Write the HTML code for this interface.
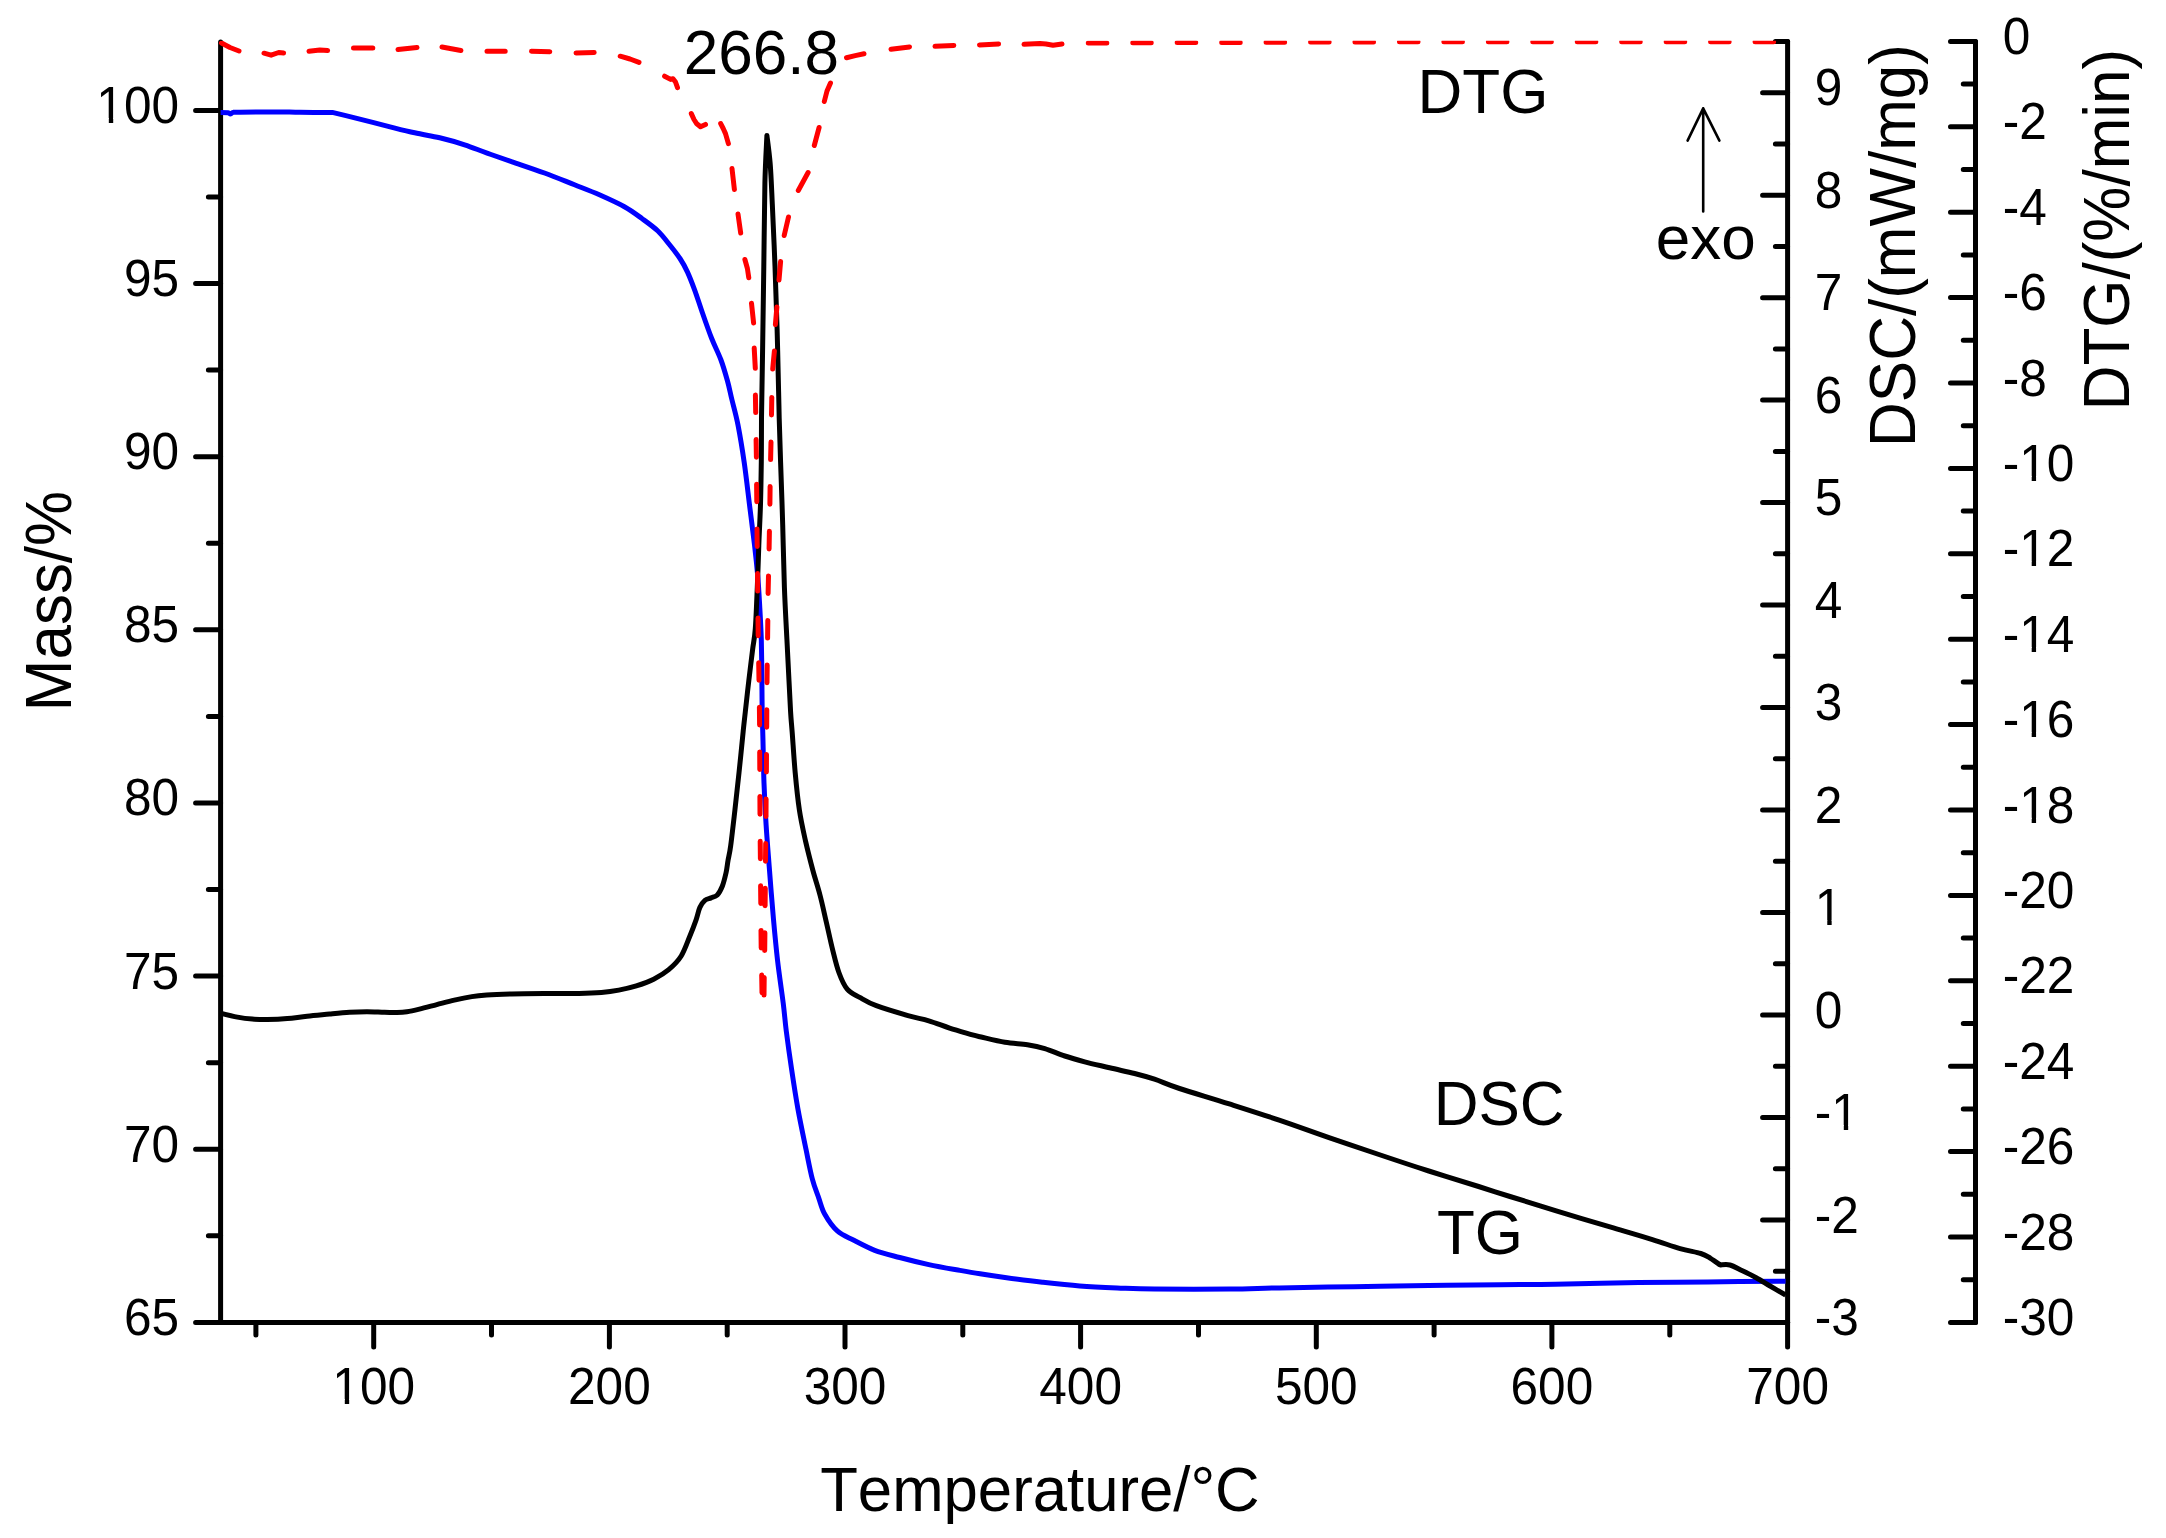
<!DOCTYPE html>
<html lang="en">
<head>
<meta charset="utf-8">
<title>TG-DSC-DTG curves</title>
<style>
html,body{margin:0;padding:0;background:#fff;}
body{width:2166px;height:1538px;overflow:hidden;}
svg{display:block;}
</style>
</head>
<body>
<svg width="2166" height="1538" viewBox="0 0 2166 1538">
<rect width="2166" height="1538" fill="#fff"/>
<defs><clipPath id="pc"><rect x="217.6" y="40.8" width="1570" height="1281.6"/></clipPath></defs>
<g stroke="#000" stroke-width="5" stroke-linecap="round" fill="none">
<path d="M220.6 41.9 V1322.4"/>
<path d="M220.6 1322.4H195.6M220.6 1149.3H195.6M220.6 976.1H195.6M220.6 803H195.6M220.6 629.8H195.6M220.6 456.7H195.6M220.6 283.5H195.6M220.6 110.4H195.6M220.6 1235.8H208.4M220.6 1062.7H208.4M220.6 889.5H208.4M220.6 716.4H208.4M220.6 543.3H208.4M220.6 370.1H208.4M220.6 197H208.4"/>
<path d="M220.6 1322.4 H1787.6"/>
<path d="M373.7 1322.4V1347.1M609.4 1322.4V1347.1M845 1322.4V1347.1M1080.6 1322.4V1347.1M1316.3 1322.4V1347.1M1551.9 1322.4V1347.1M1787.6 1322.4V1347.1M255.9 1322.4V1335M491.5 1322.4V1335M727.2 1322.4V1335M962.8 1322.4V1335M1198.5 1322.4V1335M1434.1 1322.4V1335M1669.8 1322.4V1335"/>
<path d="M1787.6 41.4 V1322.4"/>
<path d="M1787.6 1322.4H1762.6M1787.6 1219.9H1762.6M1787.6 1117.5H1762.6M1787.6 1015H1762.6M1787.6 912.5H1762.6M1787.6 810H1762.6M1787.6 707.6H1762.6M1787.6 605.1H1762.6M1787.6 502.6H1762.6M1787.6 400.1H1762.6M1787.6 297.7H1762.6M1787.6 195.2H1762.6M1787.6 92.7H1762.6M1787.6 1271.2H1775.4M1787.6 1168.7H1775.4M1787.6 1066.2H1775.4M1787.6 963.7H1775.4M1787.6 861.3H1775.4M1787.6 758.8H1775.4M1787.6 656.3H1775.4M1787.6 553.8H1775.4M1787.6 451.4H1775.4M1787.6 348.9H1775.4M1787.6 246.4H1775.4M1787.6 143.9H1775.4M1787.6 41.5H1775.4"/>
<path d="M1975.5 41.4 V1322.4"/>
<path d="M1975.5 41.4H1950.5M1975.5 126.8H1950.5M1975.5 212.2H1950.5M1975.5 297.6H1950.5M1975.5 383H1950.5M1975.5 468.4H1950.5M1975.5 553.8H1950.5M1975.5 639.2H1950.5M1975.5 724.6H1950.5M1975.5 810H1950.5M1975.5 895.4H1950.5M1975.5 980.8H1950.5M1975.5 1066.2H1950.5M1975.5 1151.6H1950.5M1975.5 1237H1950.5M1975.5 1322.4H1950.5M1975.5 84.1H1963.3M1975.5 169.5H1963.3M1975.5 254.9H1963.3M1975.5 340.3H1963.3M1975.5 425.7H1963.3M1975.5 511.1H1963.3M1975.5 596.5H1963.3M1975.5 681.9H1963.3M1975.5 767.3H1963.3M1975.5 852.7H1963.3M1975.5 938.1H1963.3M1975.5 1023.5H1963.3M1975.5 1108.9H1963.3M1975.5 1194.3H1963.3M1975.5 1279.7H1963.3"/>
</g>
<g fill="none" stroke-linejoin="round" stroke-linecap="butt" stroke-width="5">
<path stroke="#0000ff" d="M220.6 112.5C221.8 112.5 226.3 112.5 228 112.7C229.7 113 229.7 114 230.6 114C231.5 114 231.6 112.7 233.2 112.4C234.8 112.1 233.1 112.3 240 112.2C246.9 112.1 264.9 111.9 274.9 111.9C284.9 111.9 290.4 112.2 300 112.3C309.6 112.4 326.9 112.4 332.3 112.4C336.1 113.3 345.7 115.6 354.8 117.9C363.9 120.2 377.2 123.6 387.2 126.1C397.2 128.6 405.9 130.9 414.7 132.8C423.4 134.8 431.4 135.8 439.7 137.8C448 139.8 456.7 142.2 464.6 144.8C472.5 147.4 479.2 150.3 487.1 153.1C495 155.9 502.5 158.5 512.1 161.8C521.7 165.1 534.1 169.2 544.5 173C554.9 176.8 565.4 181.2 574.5 184.8C583.6 188.4 591.1 191.2 599.4 194.8C607.7 198.5 617.3 202.8 624.4 206.7C631.5 210.6 636.3 214.4 641.9 218.5C647.5 222.6 653.2 226.6 657.9 231C662.5 235.4 666.1 240.4 669.8 245C673.5 249.6 677 254 680 258.5C683 263 685.1 266.9 687.5 272.1C689.9 277.3 692.1 283.1 694.5 289.6C696.9 296.1 699 302.9 701.8 311C704.6 319.1 708.3 329.9 711.5 338C714.7 346.1 718.1 352.3 720.8 359.5C723.5 366.7 725.6 374.2 727.5 381C729.4 387.8 730.2 392.7 732 400C733.8 407.3 736 414.6 738 425C740 435.4 742.3 449.2 744.2 462.4C746.1 475.6 747.7 490.1 749.4 504C751.1 517.9 753.2 533.5 754.6 545.6C756 557.7 756.9 566.4 757.8 576.8C758.7 587.2 759.2 597.6 759.8 608C760.4 618.4 760.9 627.1 761.3 639.2C761.6 651.3 761.8 669 761.9 680.8C762 692.6 762 699.9 762.2 710C762.4 720.1 762.7 729.4 763 741.6C763.3 753.8 763.5 769.3 764 783.2C764.5 797.1 765.2 810.9 766.1 824.8C767 838.7 768 850.8 769.2 866.4C770.4 882 772 902.8 773.4 918.4C774.8 934 775.9 945.9 777.5 960C779.1 974.1 781.7 991.1 783.2 1003C784.7 1014.9 784.9 1020.3 786.3 1031.2C787.7 1042.1 789.6 1055.8 791.5 1068.6C793.4 1081.4 795.4 1094.7 797.8 1108.2C800.2 1121.7 803.7 1138 806.1 1149.8C808.5 1161.6 810.2 1170.9 812.3 1178.9C814.4 1186.9 816.5 1191.7 818.6 1197.6C820.7 1203.5 821.7 1208.8 824.8 1214.3C827.9 1219.8 832.4 1226.6 837.3 1230.9C842.1 1235.2 847.7 1237.1 853.9 1240.3C860.1 1243.5 867.1 1247.4 874.7 1250.3C882.3 1253.2 890.7 1255.1 899.7 1257.5C908.7 1259.9 918.8 1262.4 928.8 1264.6C938.8 1266.8 951.5 1268.9 960 1270.4C968.5 1271.9 972.5 1272.6 980 1273.8C987.5 1275 994.5 1276.1 1004.9 1277.5C1015.3 1278.9 1029.8 1280.8 1042.3 1282.2C1054.8 1283.6 1067.2 1285 1079.7 1285.9C1092.2 1286.9 1104.6 1287.4 1117.1 1287.9C1129.6 1288.4 1135.8 1288.9 1154.5 1289.1C1173.2 1289.3 1208.5 1289.3 1229.3 1289.1C1250.1 1288.9 1258.4 1288.3 1279.2 1287.9C1300 1287.5 1329.1 1287.1 1354 1286.7C1378.9 1286.3 1404.5 1285.7 1428.8 1285.4C1453.1 1285.1 1478.9 1284.9 1500 1284.7C1521.1 1284.5 1532.3 1284.6 1555.4 1284.2C1578.5 1283.8 1613.1 1283 1638.5 1282.6C1663.9 1282.2 1683.3 1282.1 1707.8 1281.9C1732.3 1281.7 1772.6 1281.3 1785.6 1281.2"/>
<path stroke="#000" d="M220.6 1013.2C223.4 1013.9 232.1 1016.1 237.4 1017.1C242.7 1018.1 247.4 1018.7 252.4 1019.1C257.4 1019.5 261.5 1019.7 267.3 1019.6C273.1 1019.5 280.7 1019.2 287.3 1018.6C293.9 1018 300.1 1017 307.2 1016.3C314.2 1015.5 322.5 1014.8 329.6 1014.1C336.7 1013.4 343.4 1012.7 349.6 1012.3C355.8 1011.9 361.2 1011.8 367 1011.8C372.8 1011.8 379.5 1012.2 384.5 1012.3C389.5 1012.4 393.3 1012.7 397 1012.6C400.7 1012.5 403.2 1012.4 406.9 1011.8C410.6 1011.2 414.4 1010.3 419.4 1009.1C424.4 1007.9 431 1006.1 436.8 1004.6C442.6 1003.1 448.5 1001.4 454.3 1000.1C460.1 998.8 466.4 997.5 471.8 996.6C477.2 995.7 480.1 995.4 486.7 994.9C493.3 994.4 501.2 994.1 511.6 993.9C522 993.6 537.8 993.5 549 993.4C560.2 993.3 570.3 993.6 579 993.4C587.7 993.2 594.8 992.9 601.4 992.4C608 991.9 613 991.2 618.8 990.1C624.6 989 630.5 987.7 636.3 985.9C642.1 984.1 648.3 981.9 653.7 979.2C659.1 976.5 664.1 973.6 668.7 969.7C673.3 965.8 677.7 961.6 681.2 956C684.7 950.4 687.4 942 689.9 936C692.4 930 694.4 924.6 696.1 919.8C697.8 915 698.4 910.6 699.9 907.4C701.4 904.2 703 902 704.9 900.4C706.8 898.8 709 898.8 711.1 897.9C713.2 897 715.4 896.8 717.3 894.9C719.2 893 720.8 889.9 722.3 886.2C723.8 882.5 725.1 876.9 726.1 872.5C727.1 868.1 727.3 864.5 728.1 860C728.9 855.5 729.6 853.9 730.7 845.6C731.8 837.3 733.5 822.3 734.9 810.2C736.3 798.1 737.6 786 739 772.8C740.4 759.6 742 743 743.2 731.2C744.4 719.4 745.5 710.4 746.4 702C747.3 693.6 747.8 689.5 748.8 680.8C749.8 672.1 751.5 658.3 752.6 649.6C753.7 640.9 754.5 639.2 755.3 628.8C756.1 618.4 756.7 601.1 757.3 587.2C757.9 573.3 758.3 559.5 758.8 545.6C759.3 531.7 760.1 517.9 760.5 504C760.9 490.1 761.1 476.7 761.3 462.4C761.5 448.1 761.3 437 761.5 418.2C761.7 399.4 762.2 374.9 762.6 349.6C763 324.3 763.4 294.1 763.8 266.4C764.2 238.7 764.4 205 764.9 183.2C765.4 161.4 766.6 143.4 766.9 135.4C767.5 140.2 769.3 152.6 770.2 164C771.1 175.4 771.5 186.9 772.3 204C773.1 221.1 774.2 245.6 775 266.4C775.8 287.2 776.5 308 777.1 328.8C777.7 349.6 778.2 376.3 778.6 391.2C779 406.1 778.9 406.3 779.2 418.2C779.5 430.1 780 444.6 780.6 462.4C781.2 480.2 782.1 504 782.7 524.8C783.3 545.6 783.7 568.1 784.4 587.2C785.1 606.3 786.1 623.6 786.9 639.2C787.7 654.8 788.4 668.7 789 680.8C789.6 692.9 790.1 703.6 790.6 712C791.1 720.4 791.3 721.1 792.1 731.2C792.9 741.3 794 759.6 795.2 772.8C796.4 786 797.7 798.8 799.4 810.2C801.1 821.6 803.4 831.4 805.6 841.4C807.9 851.4 810.5 861.5 812.9 870.5C815.3 879.5 817.9 886.8 820.1 895.5C822.4 904.2 824.3 913.5 826.4 922.5C828.5 931.5 830.5 941.3 832.6 949.6C834.7 957.9 836.5 965.9 838.9 972.5C841.3 979.1 843.7 985 847.2 989.1C850.7 993.2 854.9 994.6 859.7 997.4C864.6 1000.2 868.2 1002.7 876.3 1005.7C884.3 1008.7 899.2 1013.1 908 1015.6C916.8 1018.1 921.9 1018.7 928.8 1020.8C935.7 1022.9 942.7 1025.8 949.6 1028.1C956.5 1030.3 965.3 1032.8 970.4 1034.3C975.5 1035.8 974.2 1035.5 980 1036.8C985.8 1038.1 997 1041 1004.9 1042.3C1012.8 1043.6 1020.8 1043.8 1027.4 1044.8C1034.1 1045.8 1038.6 1046.7 1044.8 1048.6C1051 1050.5 1058.1 1053.8 1064.8 1056C1071.5 1058.2 1077.2 1059.8 1084.7 1061.8C1092.2 1063.8 1101.3 1065.8 1109.6 1067.8C1117.9 1069.8 1127.1 1071.6 1134.6 1073.5C1142.1 1075.4 1147 1076.7 1154.5 1079.2C1162 1081.7 1167 1084.4 1179.5 1088.5C1192 1092.6 1212.7 1098.6 1229.3 1103.9C1245.9 1109.2 1262.6 1114.5 1279.2 1120.1C1295.8 1125.7 1312.4 1131.9 1329 1137.6C1345.6 1143.3 1362.3 1148.9 1378.9 1154.5C1395.5 1160.1 1412.2 1165.7 1428.8 1171C1445.4 1176.3 1465.1 1182.2 1478.6 1186.5C1492.1 1190.8 1497.2 1192.5 1510 1196.5C1522.8 1200.5 1538.6 1205.5 1555.4 1210.6C1572.2 1215.7 1594.6 1222.4 1610.8 1227.2C1627 1232 1640.9 1236 1652.4 1239.6C1664 1243.2 1672 1246.3 1680.1 1248.6C1688.2 1250.9 1695.7 1251.9 1700.8 1253.5C1705.9 1255.1 1707.3 1256.4 1710.5 1258.3C1713.7 1260.2 1718.6 1263.9 1720.2 1265C1721.8 1265 1726.2 1264 1729.9 1265C1733.6 1266 1738 1268.7 1742.4 1270.8C1746.8 1272.9 1751.6 1275.2 1756.2 1277.7C1760.8 1280.2 1765.2 1283.1 1770.1 1286C1775 1288.9 1783 1293.5 1785.6 1295"/>
</g>
<g fill="none" stroke="#ff0000" stroke-width="5" stroke-linecap="round" stroke-linejoin="round" clip-path="url(#pc)">
<path d="M221.5 43L230 47.5L239 51M264 53.2L271.1 55.2L278.7 52.5L283.6 53M309 51.2L319.8 50L327.6 50.5M353.5 48L372.8 48M398 49.5L417 47.5M442 47L460.9 50.5M487 51.2L505.2 51.2M531.5 51.2L549.8 51.7M576 53L594.2 52.5M620.2 56.2L630 59L639 62.4M664.6 76.2L670.6 79.4L673 78.7L675.5 82L677.5 87.6M691.3 113.6L694 119.5L696.8 123.8L700.5 126.8L705.5 124.4M720.7 123.6L723.2 128.5L725.5 133.6L728.4 143.6M732 168.5L734.4 189.5M738 214L740.7 233.1M744.9 259.5L747.4 268.5L748.8 277.8M751.5 303.3L753.6 323M754.2 348L755.3 368.3M755.4 395L755.7 412.6M771.8 397.4L771.5 415M756.1 439.6L756.4 457.2M771 442L770.6 459.6M756.6 484.2L756.8 501.8M770.1 486.6L769.9 504.2M757 528.9L757.2 546.5M769.4 531.3L769.1 548.9M757.5 573.5L757.7 591.1M768.5 575.9L768.1 593.5M758 618.1L758.2 635.7M767.8 620.5L767.6 638.1M758.7 662.7L759 680.3M767.2 665.1L767 682.7M759.4 707.3L759.6 724.9M766.8 709.7L766.7 727.3M759.7 752L759.8 769.6M766.5 754.4L766.4 772M759.9 796.6L760 814.2M766.1 799L766 816.6M760.2 841.2L760.4 858.8M765.7 843.6L765.5 861.2M760.6 885.8L760.8 903.4M765.3 888.2L765.1 905.8M761 930.4L761.2 948M764.9 932.8L764.7 950.4M761.7 975.1L762 992.7M764.2 977.5L764 995.1M772.7 369L774.4 351M775.4 324.5L776.9 307M779 280L780.6 261.5M784.2 235.5L788.5 217M798.3 190.5L808.1 172.5M814.3 145.5L819.1 127.5M824.3 101.5L827 91L830.5 83M846.5 57.7L855.2 55.6L864 53.8M891 49.2L909.5 46.9M935 46.3L953.8 45.4M979.5 44.9L998.6 43.9M1024 44.3L1040 43.6L1046 44L1053 45.2L1062 44M1088.3 42.9L1106.8 42.9M1132.8 42.7L1151.2 42.7M1177.2 42.6L1195.7 42.6M1221.7 42.4L1240.2 42.4M1266.1 42.2L1284.6 42.2M1310.6 42L1329.1 42M1355 41.9L1373.5 41.9M1399.5 41.7L1418 41.7M1443.9 41.7L1462.4 41.7M1488.4 41.7L1506.9 41.7M1532.8 41.7L1551.3 41.7M1577.3 41.7L1595.8 41.7M1621.7 41.7L1640.2 41.7M1666.2 41.7L1684.7 41.7M1710.6 41.7L1729.1 41.7M1755.1 41.7L1773.6 41.7"/>
</g>
<g fill="none" stroke="#000" stroke-width="2.6" stroke-linecap="round" stroke-linejoin="round">
<path d="M1703.2 211.5V108.4M1687.6 140.6L1703.2 108.4L1719.4 140.6"/>
</g>
<defs><clipPath id="c1s"><path clip-rule="evenodd" d="M-300 -80H300V40H-300ZM3.18 -4.71H12.47V1H3.18ZM16.86 -4.71H25.76V1H16.86Z"/></clipPath><clipPath id="c1h"><path clip-rule="evenodd" d="M-300 -80H300V40H-300ZM19.7 -4.71H28.99V1H19.7ZM33.37 -4.71H42.28V1H33.37Z"/></clipPath><clipPath id="c1e"><path clip-rule="evenodd" d="M-300 -80H300V40H-300ZM-79.58 -4.71H-70.28V1H-79.58ZM-65.9 -4.71H-56.99V1H-65.9Z"/></clipPath><clipPath id="c1m"><path clip-rule="evenodd" d="M-300 -80H300V40H-300ZM-38.2 -4.71H-28.91V1H-38.2ZM-24.52 -4.71H-15.61V1H-24.52Z"/></clipPath></defs>
<g font-family="'Liberation Sans', Arial, Helvetica, sans-serif" fill="#000" style="font-kerning:none">
<g font-size="49.6">
<text transform="translate(179.1 1334.8) scale(1 1.0405)" text-anchor="end">65</text>
<text transform="translate(179.1 1161.7) scale(1 1.0405)" text-anchor="end">70</text>
<text transform="translate(179.1 988.5) scale(1 1.0405)" text-anchor="end">75</text>
<text transform="translate(179.1 815.4) scale(1 1.0405)" text-anchor="end">80</text>
<text transform="translate(179.1 642.2) scale(1 1.0405)" text-anchor="end">85</text>
<text transform="translate(179.1 469.1) scale(1 1.0405)" text-anchor="end">90</text>
<text transform="translate(179.1 295.9) scale(1 1.0405)" text-anchor="end">95</text>
<text transform="translate(179.1 122.8) scale(1 1.0405)" text-anchor="end" clip-path="url(#c1e)">100</text>
<text transform="translate(373.7 1403.9) scale(1 1.0405)" text-anchor="middle" clip-path="url(#c1m)">100</text>
<text transform="translate(609.4 1403.9) scale(1 1.0405)" text-anchor="middle">200</text>
<text transform="translate(845 1403.9) scale(1 1.0405)" text-anchor="middle">300</text>
<text transform="translate(1080.6 1403.9) scale(1 1.0405)" text-anchor="middle">400</text>
<text transform="translate(1316.3 1403.9) scale(1 1.0405)" text-anchor="middle">500</text>
<text transform="translate(1551.9 1403.9) scale(1 1.0405)" text-anchor="middle">600</text>
<text transform="translate(1787.6 1403.9) scale(1 1.0405)" text-anchor="middle">700</text>
<text transform="translate(1814.8 1335) scale(1 1.0405)">-3</text>
<text transform="translate(1814.8 1232.5) scale(1 1.0405)">-2</text>
<text transform="translate(1814.8 1130) scale(1 1.0405)" clip-path="url(#c1h)">-1</text>
<text transform="translate(1814.8 1027.6) scale(1 1.0405)">0</text>
<text transform="translate(1814.8 925.1) scale(1 1.0405)" clip-path="url(#c1s)">1</text>
<text transform="translate(1814.8 822.6) scale(1 1.0405)">2</text>
<text transform="translate(1814.8 720.2) scale(1 1.0405)">3</text>
<text transform="translate(1814.8 617.7) scale(1 1.0405)">4</text>
<text transform="translate(1814.8 515.2) scale(1 1.0405)">5</text>
<text transform="translate(1814.8 412.7) scale(1 1.0405)">6</text>
<text transform="translate(1814.8 310.3) scale(1 1.0405)">7</text>
<text transform="translate(1814.8 207.8) scale(1 1.0405)">8</text>
<text transform="translate(1814.8 105.3) scale(1 1.0405)">9</text>
<text transform="translate(2002.7 54) scale(1 1.0405)">0</text>
<text transform="translate(2002.7 139.4) scale(1 1.0405)">-2</text>
<text transform="translate(2002.7 224.8) scale(1 1.0405)">-4</text>
<text transform="translate(2002.7 310.2) scale(1 1.0405)">-6</text>
<text transform="translate(2002.7 395.6) scale(1 1.0405)">-8</text>
<text transform="translate(2002.7 481) scale(1 1.0405)" clip-path="url(#c1h)">-10</text>
<text transform="translate(2002.7 566.4) scale(1 1.0405)" clip-path="url(#c1h)">-12</text>
<text transform="translate(2002.7 651.8) scale(1 1.0405)" clip-path="url(#c1h)">-14</text>
<text transform="translate(2002.7 737.2) scale(1 1.0405)" clip-path="url(#c1h)">-16</text>
<text transform="translate(2002.7 822.6) scale(1 1.0405)" clip-path="url(#c1h)">-18</text>
<text transform="translate(2002.7 908) scale(1 1.0405)">-20</text>
<text transform="translate(2002.7 993.4) scale(1 1.0405)">-22</text>
<text transform="translate(2002.7 1078.8) scale(1 1.0405)">-24</text>
<text transform="translate(2002.7 1164.2) scale(1 1.0405)">-26</text>
<text transform="translate(2002.7 1249.6) scale(1 1.0405)">-28</text>
<text transform="translate(2002.7 1335) scale(1 1.0405)">-30</text>
</g>
<g font-size="62">
<text transform="translate(1039.9 1511.2) scale(1 1.02)" text-anchor="middle" font-size="61.7">Temperature/°C</text>
<text transform="translate(70.8 601) rotate(-90) scale(1 1.0405)" text-anchor="middle">Mass/%</text>
<text transform="translate(1915.4 245.5) rotate(-90) scale(1 1.0405)" text-anchor="middle">DSC/(mW/mg)</text>
<text transform="translate(2128.5 229.6) rotate(-90) scale(1 1.0405)" text-anchor="middle">DTG/(%/min)</text>
</g>
<g font-size="62">
<text transform="translate(683.8 74.4) scale(1 1.0220)">266.8</text>
<text transform="translate(1417.5 112.7) scale(1 1.0220)">DTG</text>
<text transform="translate(1433.7 1125.3) scale(1 1.0220)">DSC</text>
<text transform="translate(1437 1253.9) scale(1 1.0220)">TG</text>
<text x="1655.8" y="259.1">exo</text>
</g>
</g>
</svg>
</body>
</html>
